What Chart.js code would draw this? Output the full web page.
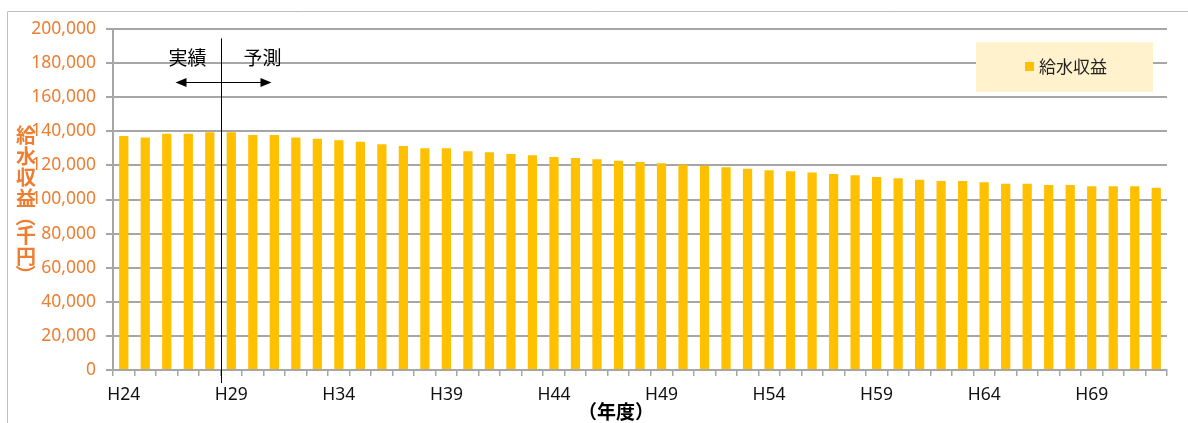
<!DOCTYPE html>
<html>
<head>
<meta charset="utf-8">
<script src="https://cdn.jsdelivr.net/npm/chart.js@4"></script>
<style>
	html, body { margin: 0; padding: 0; background: #fff; }
	#wrap { width: 1188px; height: 423px; position: relative; }
</style>
</head>
<body>
<div id="wrap"><canvas id="chart" width="1188" height="423"></canvas></div>
<script>
// 年度（H24〜H72）
const years = [
	'H24', 'H25', 'H26', 'H27', 'H28', 'H29', 'H30', 'H31', 'H32', 'H33',
	'H34', 'H35', 'H36', 'H37', 'H38', 'H39', 'H40', 'H41', 'H42', 'H43',
	'H44', 'H45', 'H46', 'H47', 'H48', 'H49', 'H50', 'H51', 'H52', 'H53',
	'H54', 'H55', 'H56', 'H57', 'H58', 'H59', 'H60', 'H61', 'H62', 'H63',
	'H64', 'H65', 'H66', 'H67', 'H68', 'H69', 'H70', 'H71', 'H72'
]
// 給水収益（千円）
const revenue = [
	137200, 136300, 138600, 138600, 139400, 139400, 137800, 137800, 136300, 135700,
	134700, 133900, 132400, 131400, 130000, 130000, 128300, 127700, 126700, 125900,
	124900, 124300, 123600, 122800, 122000, 121200, 120400, 119800, 118900, 118100,
	117100, 116500, 115800, 115000, 114200, 113200, 112400, 111600, 110900, 110900,
	110100, 109300, 109300, 108500, 108500, 107700, 107700, 107700, 106900
]
const seriesName = '給水収益'
const yTitle = '給水収益（千円）'
const xTitle = '（年度）'
const splitIndex = 5 // H29から予測

const orange = '#ED7D31'
const barColor = '#FFC000'
const gridColor = '#a6a6a6'
const jpFont = '"Noto Sans CJK JP", "Noto Sans", sans-serif'
const numFont = '"Noto Sans", sans-serif'

// 注記・凡例・軸タイトルの描画
const decorPlugin = {
	id: 'decor',
	afterDraw(chart) {
		const ctx = chart.ctx
		const x = chart.scales.x
		const y = chart.scales.y
		const area = chart.chartArea
		ctx.save()

		// 外枠
		ctx.strokeStyle = '#bfbfbf'
		ctx.lineWidth = 1
		ctx.beginPath()
		ctx.moveTo(7.5, 423)
		ctx.lineTo(7.5, 11.5)
		ctx.lineTo(1188, 11.5)
		ctx.stroke()

		// 実績・予測の区切り線
		const lx = Math.round((x.getPixelForValue(splitIndex - 1) + x.getPixelForValue(splitIndex)) / 2) + 0.5
		ctx.strokeStyle = '#000'
		ctx.lineWidth = 1
		ctx.beginPath()
		ctx.moveTo(lx, y.getPixelForValue(194500))
		ctx.lineTo(lx, area.bottom + 13)
		ctx.stroke()

		// 矢印
		const ay = Math.round(y.getPixelForValue(169000)) + 0.5
		const left = lx - 46
		const right = lx + 50
		ctx.beginPath()
		ctx.moveTo(left + 6, ay)
		ctx.lineTo(right - 6, ay)
		ctx.stroke()
		ctx.fillStyle = '#000'
		ctx.beginPath()
		ctx.moveTo(left, ay)
		ctx.lineTo(left + 11, ay - 4.5)
		ctx.lineTo(left + 11, ay + 4.5)
		ctx.closePath()
		ctx.fill()
		ctx.beginPath()
		ctx.moveTo(right, ay)
		ctx.lineTo(right - 11, ay - 4.5)
		ctx.lineTo(right - 11, ay + 4.5)
		ctx.closePath()
		ctx.fill()

		ctx.font = '19px ' + jpFont
		ctx.textAlign = 'center'
		ctx.textBaseline = 'middle'
		ctx.fillText('実績', lx - 34, y.getPixelForValue(183000))
		ctx.fillText('予測', lx + 41, y.getPixelForValue(183000))

		// 凡例
		const lgRight = area.right - 14
		const lgTop = area.top + 13
		ctx.fillStyle = '#FFF2CC'
		ctx.fillRect(lgRight - 177, lgTop, 177, 50)
		ctx.fillStyle = barColor
		ctx.fillRect(lgRight - 128, lgTop + 20, 9, 9)
		ctx.fillStyle = '#222'
		ctx.textAlign = 'left'
		ctx.font = '17px ' + jpFont
		ctx.fillText(chart.data.datasets[0].label, lgRight - 114, lgTop + 25)

		// 縦軸タイトル（縦書き）
		ctx.fillStyle = orange
		ctx.font = 'bold 20px ' + jpFont
		ctx.textAlign = 'center'
		let cy = 135
		Array.from(yTitle).forEach((ch, i) => {
			const paren = ch === '（' || ch === '）'
			const h = paren ? 16 : 21
			if (i > 0) cy += h / 2
			if (paren) {
				ctx.save()
				ctx.translate(26, cy)
				ctx.rotate(Math.PI / 2)
				ctx.fillText(ch, 0, 0)
				ctx.restore()
			} else {
				ctx.fillText(ch, 26, cy)
			}
			cy += h / 2
		})

		// 横軸タイトル
		ctx.fillStyle = '#000'
		ctx.font = 'bold 19px ' + jpFont
		ctx.textAlign = 'center'
		ctx.fillText(xTitle, 616, 412)

		ctx.restore()
	}
}

const ctx = document.getElementById('chart').getContext('2d')
new Chart(ctx, {
	type: 'bar',
	data: {
		labels: years,
		datasets: [{
			label: seriesName,
			data: revenue,
			backgroundColor: barColor,
			borderWidth: 0,
			barPercentage: 0.43,
			categoryPercentage: 1
		}]
	},
	options: {
		responsive: false,
		animation: false,
		devicePixelRatio: 1,
		layout: {
			padding: { left: 0, top: 29, right: 21, bottom: 0 }
		},
		plugins: {
			legend: { display: false },
			tooltip: { enabled: false }
		},
		scales: {
			x: {
				afterFit: scale => { scale.height = 53 },
				grid: {
					offset: true,
					drawOnChartArea: false,
					drawTicks: true,
					tickLength: 6,
					color: gridColor,
					lineWidth: 1.5
				},
				border: { display: true, color: gridColor, width: 2 },
				ticks: {
					autoSkip: false,
					maxRotation: 0,
					padding: 9,
					color: '#111',
					font: { family: numFont, size: 17.5 },
					callback: function(val, i) {
						return i % 5 === 0 ? this.getLabelForValue(val) : ''
					}
				}
			},
			y: {
				min: 0,
				max: 200000,
				afterFit: scale => { scale.width = 113 },
				grid: {
					color: gridColor,
					lineWidth: 2,
					tickLength: 7
				},
				border: { display: true, color: gridColor, width: 2 },
				ticks: {
					stepSize: 20000,
					padding: 10,
					color: orange,
					font: { family: numFont, size: 17.5 },
					callback: v => v.toLocaleString('en-US')
				}
			}
		}
	},
	plugins: [decorPlugin]
})
</script>
</body>
</html>
